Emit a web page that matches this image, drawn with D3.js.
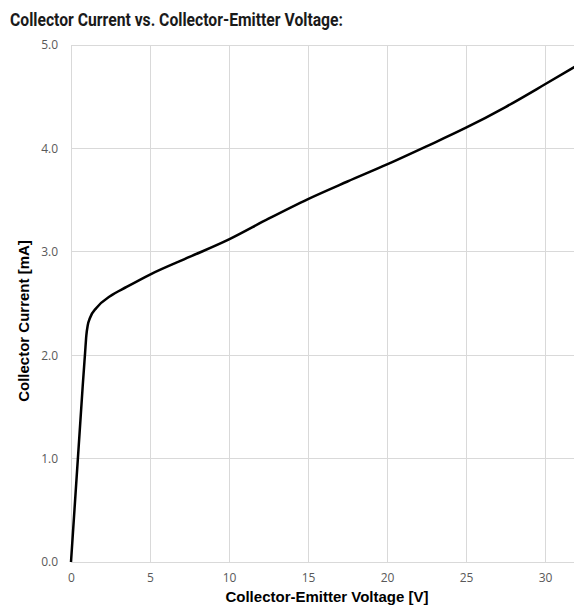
<!DOCTYPE html>
<html>
<head>
<meta charset="utf-8">
<script src="https://cdn.jsdelivr.net/npm/d3@7"></script>
<style>
  html, body { margin: 0; padding: 0; background: #fff; }
  svg { display: block; }
</style>
</head>
<body>
<svg id="chart" width="574" height="608"></svg>
<script>
// Collector-emitter voltage (V) and collector current (mA) along the curve
const voltage = [0, 0.74, 0.89, 0.97, 1.06, 1.2, 1.62, 2.47, 3.52, 5, 7.5, 10, 12.5, 15, 17.5, 20, 22.5, 25, 27.5, 30, 32];
const current = [0, 1.70, 2.02, 2.19, 2.29, 2.36, 2.46, 2.57, 2.66, 2.78, 2.95, 3.12, 3.32, 3.51, 3.68, 3.845, 4.02, 4.20, 4.40, 4.62, 4.80];

const xTicks = [0, 5, 10, 15, 20, 25, 30];
const yTicks = [0, 1, 2, 3, 4, 5];

const svg = d3.select("#chart");
const plotLeft = 71, plotTop = 45, plotBottom = 562;

const x = d3.scaleLinear().domain([0, 32]).range([plotLeft, plotLeft + 32 * 15.8]);
const y = d3.scaleLinear().domain([0, 5]).range([plotBottom, plotTop]);

const grid = "#d9d9d9";
const tickColor = "#595959";
const tickFont = "'Open Sans', 'Noto Sans', sans-serif";

// Vertical gridlines
svg.append("g").selectAll("line").data(xTicks).join("line")
  .attr("x1", d => x(d)).attr("x2", d => x(d))
  .attr("y1", y(5)).attr("y2", y(0))
  .attr("stroke", grid).attr("stroke-width", 1).attr("shape-rendering", "crispEdges");

// Horizontal gridlines
svg.append("g").selectAll("line").data(yTicks).join("line")
  .attr("x1", x(0)).attr("x2", 574)
  .attr("y1", d => y(d)).attr("y2", d => y(d))
  .attr("stroke", grid).attr("stroke-width", 1).attr("shape-rendering", "crispEdges");

// Y tick labels
const yAxis = d3.axisLeft(y).tickValues(yTicks).tickFormat(d3.format(".1f")).tickSize(0).tickPadding(13);
const gy = svg.append("g").attr("transform", `translate(${plotLeft},0)`).call(yAxis);
gy.select(".domain").remove();
gy.selectAll("text").attr("fill", tickColor).style("font-family", tickFont).style("font-size", "12px");

// X tick labels
const xAxis = d3.axisBottom(x).tickValues(xTicks).tickFormat(d3.format("d")).tickSize(0).tickPadding(11);
const gx = svg.append("g").attr("transform", `translate(0,${plotBottom})`).call(xAxis);
gx.select(".domain").remove();
gx.selectAll("text").attr("fill", tickColor).style("font-family", tickFont).style("font-size", "12px");

// Curve
const pts = voltage.map((v, i) => [v, current[i]]);
const line = d3.line().x(d => x(d[0])).y(d => y(d[1])).curve(d3.curveMonotoneX);
svg.append("path").datum(pts)
  .attr("d", line)
  .attr("fill", "none")
  .attr("stroke", "#000")
  .attr("stroke-width", 2.5)
  .attr("stroke-linejoin", "round");

// Title
svg.append("text")
  .attr("x", 10).attr("y", 25.5)
  .attr("fill", "#1a1a1a")
  .attr("textLength", 333)
  .attr("lengthAdjust", "spacingAndGlyphs")
  .style("font-family", "Roboto, 'Liberation Sans', sans-serif")
  .style("font-weight", "bold")
  .style("font-size", "18px")
  .text("Collector Current vs. Collector-Emitter Voltage:");

// Axis titles
svg.append("text")
  .attr("x", 327).attr("y", 602)
  .attr("text-anchor", "middle")
  .attr("fill", "#000")
  .style("font-family", "'Liberation Sans', Arial, sans-serif")
  .style("font-weight", "bold")
  .style("font-size", "15px")
  .text("Collector-Emitter Voltage [V]");

svg.append("text")
  .attr("transform", "translate(29,321) rotate(-90)")
  .attr("text-anchor", "middle")
  .attr("fill", "#000")
  .style("font-family", "'Liberation Sans', Arial, sans-serif")
  .style("font-weight", "bold")
  .style("font-size", "15px")
  .text("Collector Current [mA]");
</script>
</body>
</html>
